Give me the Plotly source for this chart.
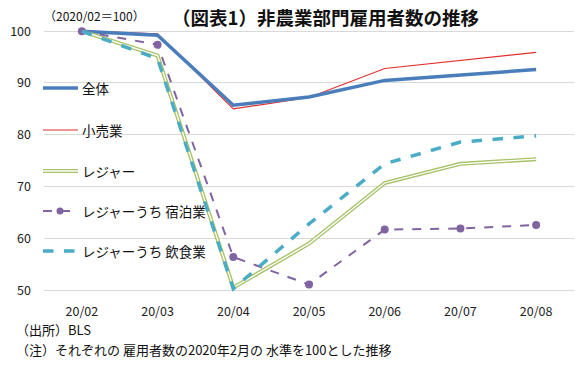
import plotly.graph_objects as go

months = ["20/02", "20/03", "20/04", "20/05", "20/06", "20/07", "20/08"]
total = [100, 99.2, 85.7, 87.3, 90.5, 91.6, 92.6]
retail = [100, 99.5, 85.0, 87.2, 92.8, 94.3, 95.9]
leisure = [100, 95.3, 50.5, 59.0, 70.7, 74.4, 75.3]
lodging = [100, 97.4, 56.4, 51.1, 61.7, 61.9, 62.6]
dining = [100, 94.7, 50.3, 62.8, 74.4, 78.6, 79.8]
y_ticks = [50, 60, 70, 80, 90, 100]

W, H = 581, 367
ML, MR, MT, MB = 44, 7, 26, 69
PW, PH = W - ML - MR, H - MT - MB

def px(x):
    return (x - ML) / PW

def py(y):
    return 1 - (y - MT) / PH

FONT = "Noto Sans CJK JP"
C_TOTAL = "#4A7EBB"
C_RETAIL = "#E0302C"
C_LEIS = "#A8C26A"
C_LODGE = "#8064A2"
C_DINE = "#4BACC6"

fig = go.Figure()
fig.add_trace(go.Scatter(x=months, y=retail, mode="lines", line=dict(color=C_RETAIL, width=1.2), showlegend=False))
fig.add_trace(go.Scatter(x=months, y=total, mode="lines", line=dict(color=C_TOTAL, width=3.5), showlegend=False))
fig.add_trace(go.Scatter(x=months, y=leisure, mode="lines", line=dict(color=C_LEIS, width=4), showlegend=False))
fig.add_trace(go.Scatter(x=months, y=leisure, mode="lines", line=dict(color="white", width=1.3), showlegend=False))
fig.add_trace(go.Scatter(x=months, y=lodging, mode="lines+markers", line=dict(color=C_LODGE, width=2, dash="dash"),
                         marker=dict(color=C_LODGE, size=8), showlegend=False))
fig.add_trace(go.Scatter(x=months, y=dining, mode="lines", line=dict(color=C_DINE, width=3.5, dash="dash"), showlegend=False))

shapes = []
annotations = []
legend_items = [
    ("全体", 88, dict(color=C_TOTAL, width=3.5)),
    ("小売業", 130, dict(color=C_RETAIL, width=1.2)),
    ("レジャー", 171, None),
    ("レジャーうち 宿泊業", 211, dict(color=C_LODGE, width=2, dash="dash")),
    ("レジャーうち 飲食業", 251, dict(color=C_DINE, width=3.5, dash="dash")),
]
x0, x1 = 43, 78
for name, yy, ln in legend_items:
    if ln is None:
        shapes.append(dict(type="line", xref="paper", yref="paper", x0=px(x0), x1=px(x1), y0=py(yy), y1=py(yy),
                           line=dict(color=C_LEIS, width=4)))
        shapes.append(dict(type="line", xref="paper", yref="paper", x0=px(x0), x1=px(x1), y0=py(yy), y1=py(yy),
                           line=dict(color="white", width=1.3)))
    else:
        shapes.append(dict(type="line", xref="paper", yref="paper", x0=px(x0), x1=px(x1), y0=py(yy), y1=py(yy),
                           line=ln))
    annotations.append(dict(text=name, xref="paper", yref="paper", x=px(80), y=py(yy), xanchor="left",
                            yanchor="middle", showarrow=False, font=dict(family=FONT, size=13.5, color="#111")))
shapes.append(dict(type="circle", xref="paper", yref="paper", x0=px(56.5), x1=px(63.5), y0=py(214.5), y1=py(207.5),
                   fillcolor=C_LODGE, line=dict(color=C_LODGE, width=0)))

annotations.append(dict(text="<b>（図表1）非農業部門雇用者数の推移</b>", xref="paper", yref="paper", x=px(325), y=py(17),
                        xanchor="center", yanchor="middle", showarrow=False,
                        font=dict(family=FONT, size=18.5, color="#111")))
annotations.append(dict(text="（2020/02＝100）", xref="paper", yref="paper", x=px(42), y=py(16),
                        xanchor="left", yanchor="middle", showarrow=False,
                        font=dict(family=FONT, size=12, color="#111")))
annotations.append(dict(text="（出所）BLS", xref="paper", yref="paper", x=px(14), y=py(329),
                        xanchor="left", yanchor="middle", showarrow=False,
                        font=dict(family=FONT, size=13, color="#111")))
annotations.append(dict(text="（注）それぞれの 雇用者数の2020年2月の 水準を100とした推移", xref="paper", yref="paper",
                        x=px(14), y=py(349), xanchor="left", yanchor="middle", showarrow=False,
                        font=dict(family=FONT, size=13, color="#111")))

fig.update_layout(
    width=W, height=H,
    margin=dict(l=ML, r=MR, t=MT, b=MB),
    paper_bgcolor="white", plot_bgcolor="white",
    showlegend=False,
    hovermode=False,
    shapes=shapes,
    annotations=annotations,
    xaxis=dict(type="category", range=[-0.5, 6.5], showgrid=False, zeroline=False, showline=False,
               ticks="", tickfont=dict(family=FONT, size=12.5, color="#222"), ticklabelstandoff=4),
    yaxis=dict(range=[48.5, 101], tickvals=y_ticks, showgrid=True, gridcolor="#D9D9D9", gridwidth=1,
               zeroline=False, showline=False, ticks="", tickfont=dict(family=FONT, size=12.5, color="#222"),
               ticklabelstandoff=12),
)

fig.write_html("out.html", config={"displayModeBar": False},
               post_script="document.body.style.margin='0';document.body.style.padding='0';")
